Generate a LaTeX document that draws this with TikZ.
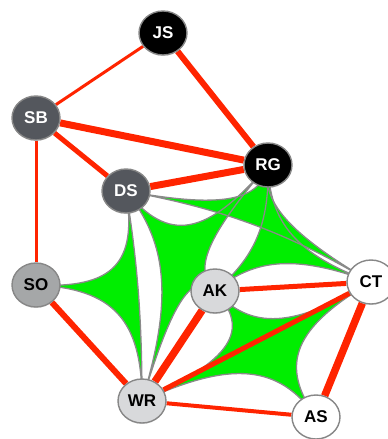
\documentclass[tikz,border=0pt]{standalone}
\usepackage{fontspec}
\setmainfont{Liberation Sans}
\usetikzlibrary{calc,shapes.geometric,shadows}
\definecolor{redE}{RGB}{255,36,0}
\definecolor{hgreen}{RGB}{0,238,0}
\definecolor{hgray}{RGB}{138,138,138}
\definecolor{nodeB}{RGB}{135,135,135}
\definecolor{darkN}{RGB}{84,87,93}
\definecolor{midN}{RGB}{165,167,168}
\definecolor{lightN}{RGB}{216,217,219}
\pgfdeclarelayer{hyp}
\pgfdeclarelayer{edg}
\pgfsetlayers{hyp,edg,main}
\newcommand\lamv{0.73}
\newcommand\hedgethree[5]{%
  \path[#1] (#2.center)
   .. controls ($(#2.center)!\lamv!(#5)$) and ($(#3.center)!\lamv!(#5)$) .. (#3.center)
   .. controls ($(#3.center)!\lamv!(#5)$) and ($(#4.center)!\lamv!(#5)$) .. (#4.center)
   .. controls ($(#4.center)!\lamv!(#5)$) and ($(#2.center)!\lamv!(#5)$) .. cycle;}
\newcommand\hedgefour[6]{%
  \path[#1] (#2.center)
   .. controls ($(#2.center)!\lamv!(#6)$) and ($(#3.center)!\lamv!(#6)$) .. (#3.center)
   .. controls ($(#3.center)!\lamv!(#6)$) and ($(#4.center)!\lamv!(#6)$) .. (#4.center)
   .. controls ($(#4.center)!\lamv!(#6)$) and ($(#5.center)!\lamv!(#6)$) .. (#5.center)
   .. controls ($(#5.center)!\lamv!(#6)$) and ($(#2.center)!\lamv!(#6)$) .. cycle;}
\begin{document}
\begin{tikzpicture}[x=1pt,y=-1pt,
  vtx/.style={ellipse, draw=nodeB, line width=1.4pt, minimum width=48pt, minimum height=44pt,
    inner sep=0pt, font=\fontsize{17}{17}\selectfont\bfseries,
    drop shadow={opacity=0.25,shadow xshift=0pt,shadow yshift=-1pt}},
  blk/.style={vtx, fill=black, text=white},
  drk/.style={vtx, fill=darkN, text=white},
  mid/.style={vtx, fill=midN, text=black},
  lgt/.style={vtx, fill=lightN, text=black},
  wht/.style={vtx, fill=white, text=black},
  re/.style={draw=redE},
  hfill/.style={fill=hgreen},
  hline/.style={draw=hgray, line width=1.3pt}]
\useasboundingbox (0,0) rectangle (388,439);
\node[blk] (JS) at (163,33) {JS};
\node[drk] (SB) at (36,118) {SB};
\node[blk] (RG) at (268,165) {RG};
\node[drk] (DS) at (126,191) {DS};
\node[mid] (SO) at (36,285) {SO};
\node[lgt] (AK) at (215,291) {AK};
\node[wht] (CT) at (371,282) {CT};
\node[lgt] (WR) at (142,401) {WR};
\node[wht] (AS) at (316,417) {AS};
\begin{pgfonlayer}{edg}
\draw[re, line width=3pt] (JS) -- (SB);
\draw[re, line width=6pt] (JS) -- (RG);
\draw[re, line width=7pt] (SB) -- (RG);
\draw[re, line width=5pt] (SB) -- (DS);
\draw[re, line width=3pt] (SB) -- (SO);
\draw[re, line width=7pt] (DS) -- (RG);
\draw[re, line width=6pt] (SO) -- (WR);
\draw[re, line width=7.5pt] (AK) -- (WR);
\draw[re, line width=5pt] (AK) -- (CT);
\draw[re, line width=5pt] (CT) -- (WR);
\draw[re, line width=7.5pt] (CT) -- (AS);
\draw[re, line width=4pt] (WR) -- (AS);
\end{pgfonlayer}
\begin{pgfonlayer}{hyp}
\coordinate (gA) at (142,290);
\coordinate (gB) at (184,263);
\coordinate (gC) at (270,245);
\coordinate (gF) at (258,215);
\coordinate (gE) at (265,345);
\hedgethree{hfill}{SO}{DS}{WR}{gA}
\hedgefour{hfill}{DS}{RG}{AK}{WR}{gB}
\hedgethree{hfill}{RG}{CT}{AK}{gC}
\hedgethree{hfill}{DS}{RG}{CT}{gF}
\hedgefour{hfill}{AK}{CT}{AS}{WR}{gE}
\hedgethree{hline}{SO}{DS}{WR}{gA}
\hedgefour{hline}{DS}{RG}{AK}{WR}{gB}
\hedgethree{hline}{RG}{CT}{AK}{gC}
\hedgethree{hline}{DS}{RG}{CT}{gF}
\hedgefour{hline}{AK}{CT}{AS}{WR}{gE}
\end{pgfonlayer}
\end{tikzpicture}
\end{document}
